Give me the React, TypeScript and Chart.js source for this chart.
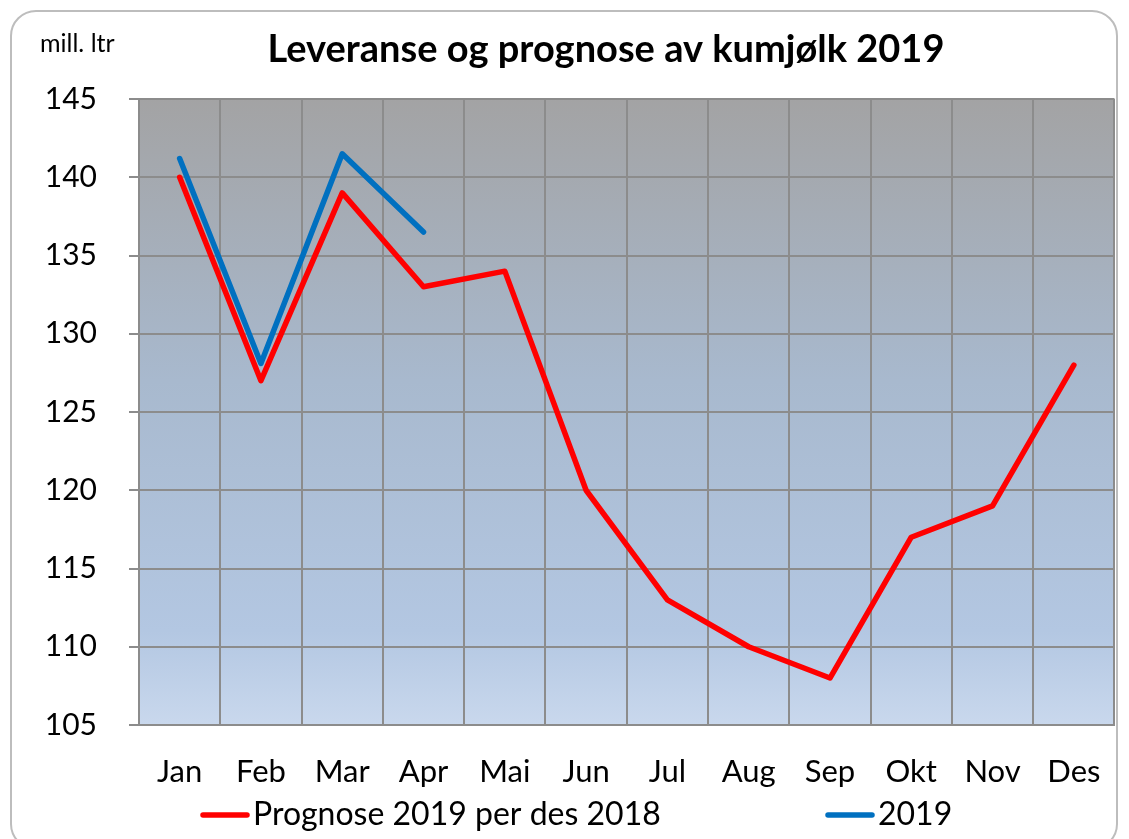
import React, { useEffect, useRef } from "react";
import { Chart, registerables } from "chart.js";

Chart.register(...registerables);

const months = ["Jan", "Feb", "Mar", "Apr", "Mai", "Jun", "Jul", "Aug", "Sep", "Okt", "Nov", "Des"];
const prognose2019 = [140, 127, 139, 133, 134, 120, 113, 110, 108, 117, 119, 128];
const actual2019 = [141.2, 128.1, 141.5, 136.5, null, null, null, null, null, null, null, null];
const seriesLabels = ["Prognose 2019 per des 2018", "2019"];
const titleText = "Leveranse og prognose av kumjølk 2019";
const unitText = "mill. ltr";
const yMin = 105;
const yMax = 145;
const yStep = 5;

const FONT = "Lato, 'Open Sans', sans-serif";

const bgPlugin = {
  id: "plotBg",
  beforeDraw(chart: any) {
    const { ctx, chartArea } = chart;
    if (!chartArea) return;
    const g = ctx.createLinearGradient(0, chartArea.top, 0, chartArea.bottom);
    g.addColorStop(0, "#a3a3a4");
    g.addColorStop(0.45, "#a8b9ce");
    g.addColorStop(0.85, "#b3c7e2");
    g.addColorStop(1, "#c9d8ed");
    ctx.save();
    ctx.fillStyle = g;
    ctx.fillRect(chartArea.left, chartArea.top, chartArea.right - chartArea.left, chartArea.bottom - chartArea.top);
    ctx.restore();
  },
};

const textPlugin = {
  id: "texts",
  afterDraw(chart: any) {
    const { ctx } = chart;
    ctx.save();
    ctx.fillStyle = "#000";
    ctx.textBaseline = "middle";
    ctx.textAlign = "center";
    ctx.font = `bold 38px ${FONT}`;
    ctx.fillText(titleText, 606, 50);
    ctx.textAlign = "left";
    ctx.font = `25px ${FONT}`;
    ctx.fillText(unitText, 40, 44);
    // legend
    const legendY = 815;
    const starts = [200, 825];
    chart.data.datasets.forEach((ds: any, i: number) => {
      const x0 = starts[i];
      ctx.strokeStyle = ds.borderColor;
      ctx.lineWidth = 5.5;
      ctx.lineCap = "round";
      ctx.beginPath();
      ctx.moveTo(x0 + 3, legendY);
      ctx.lineTo(x0 + 47, legendY);
      ctx.stroke();
      ctx.fillStyle = "#000";
      ctx.font = `32px ${FONT}`;
      ctx.textAlign = "left";
      ctx.fillText(ds.label, x0 + 53, legendY);
    });
    ctx.restore();
  },
};

export default function App() {
  const ref = useRef<HTMLCanvasElement>(null);
  useEffect(() => {
    if (!ref.current) return;
    const chart = new Chart(ref.current, {
      type: "line",
      data: {
        labels: months,
        datasets: [
          {
            label: seriesLabels[0],
            data: prognose2019,
            borderColor: "#ff0000",
            backgroundColor: "#ff0000",
            borderWidth: 5.5,
            pointRadius: 0,
            tension: 0,
            borderCapStyle: "round",
            borderJoinStyle: "round",
          },
          {
            label: seriesLabels[1],
            data: actual2019,
            borderColor: "#0070c0",
            backgroundColor: "#0070c0",
            borderWidth: 5.5,
            pointRadius: 0,
            tension: 0,
            borderCapStyle: "round",
            borderJoinStyle: "round",
            spanGaps: false,
          },
        ],
      },
      options: {
        responsive: false,
        animation: false,
        layout: { padding: { left: 0, right: 14, top: 99, bottom: 0 } },
        plugins: {
          legend: { display: false },
          title: { display: false },
          tooltip: { enabled: false },
        },
        scales: {
          x: {
            type: "category",
            offset: true,
            grid: {
              offset: true,
              color: "#8c8c8c",
              lineWidth: 2,
              drawTicks: false,
            },
            border: { color: "#8c8c8c", width: 2 },
            ticks: {
              color: "#000",
              font: { family: FONT, size: 31 },
              padding: 28,
              maxRotation: 0,
              autoSkip: false,
            },
            afterFit(scale: any) {
              scale.height = 114;
            },
          },
          y: {
            min: yMin,
            max: yMax,
            grid: {
              color: "#8c8c8c",
              lineWidth: 2,
              tickLength: 10,
            },
            border: { color: "#8c8c8c", width: 2 },
            ticks: {
              stepSize: yStep,
              color: "#000",
              font: { family: FONT, size: 30 },
              padding: 32,
            },
            afterFit(scale: any) {
              scale.width = 139;
            },
          },
        },
      },
      plugins: [bgPlugin, textPlugin],
    });
    return () => chart.destroy();
  }, []);

  return (
    <div style={{ position: "absolute", left: 0, top: 0, width: 1129, height: 839, background: "#fff" }}>
      <div
        style={{
          position: "absolute",
          left: 10,
          top: 10,
          width: 1108,
          height: 840,
          border: "2px solid #bdbdbd",
          borderRadius: 26,
          boxSizing: "border-box",
        }}
      />
      <canvas ref={ref} width={1129} height={839} style={{ position: "absolute", left: 0, top: 0 }} />
    </div>
  );
}
